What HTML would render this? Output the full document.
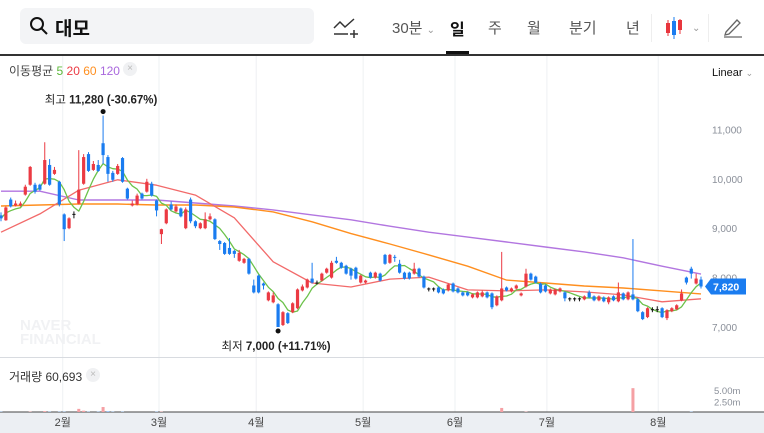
<!DOCTYPE html>
<html><head><meta charset="utf-8">
<style>
body{margin:0;width:764px;height:433px;overflow:hidden;background:#fff;font-family:"Liberation Sans","Noto Sans CJK KR",sans-serif;position:relative}
.abs{position:absolute}
.hd{font-size:15px;color:#555}
</style></head><body>
<div class="abs" style="left:20px;top:8px;width:294px;height:36px;background:#f3f4f6;border-radius:6px"></div>
<svg class="abs" style="left:29px;top:16px" width="20" height="20"><circle cx="8" cy="8" r="6" fill="none" stroke="#111" stroke-width="2"/><line x1="12.5" y1="12.5" x2="18" y2="18" stroke="#111" stroke-width="2"/></svg>
<div class="abs" style="left:55px;top:14px;font-size:19px;font-weight:bold;color:#111">대모</div>
<svg class="abs" style="left:332px;top:16px" width="28" height="24"><polyline points="2,12 8,6 13,11 22,3" fill="none" stroke="#333" stroke-width="1.5"/><line x1="2" y1="18" x2="16" y2="18" stroke="#333" stroke-width="1.5"/><line x1="22" y1="14" x2="22" y2="22" stroke="#333" stroke-width="1.5"/><line x1="18" y1="18" x2="26" y2="18" stroke="#333" stroke-width="1.5"/></svg>
<div class="abs hd" style="left:392px;top:17px">30분 <span style="font-size:10px;color:#999">⌄</span></div>
<div class="abs" style="left:450px;top:16px;font-size:16px;font-weight:bold;color:#111">일</div>
<div class="abs" style="left:446px;top:51px;width:23px;height:3px;background:#111"></div>
<div class="abs hd" style="left:488px;top:17px">주</div>
<div class="abs hd" style="left:527px;top:17px">월</div>
<div class="abs hd" style="left:569px;top:17px">분기</div>
<div class="abs hd" style="left:626px;top:17px">년</div>
<div class="abs" style="left:651px;top:14px;width:1px;height:28px;background:#eee"></div>
<svg class="abs" style="left:664px;top:16px" width="40" height="24"><line x1="4" y1="4" x2="4" y2="20" stroke="#e8363d"/><rect x="2" y="7" width="4" height="10" fill="#e8363d"/><line x1="10" y1="1" x2="10" y2="23" stroke="#1a7cf0"/><rect x="8" y="5" width="4" height="14" fill="#1a7cf0"/><line x1="16" y1="3" x2="16" y2="18" stroke="#e8363d"/><rect x="14" y="4" width="4" height="10" fill="#e8363d"/><text x="28" y="15" font-size="10" fill="#999">⌄</text></svg>
<div class="abs" style="left:708px;top:14px;width:1px;height:28px;background:#eee"></div>
<svg class="abs" style="left:722px;top:16px" width="22" height="22"><path d="M4 16 L15 4 L18 7 L7 18 L3 19 Z" fill="none" stroke="#666" stroke-width="1.3"/><line x1="2" y1="21" x2="20" y2="21" stroke="#666" stroke-width="1.3"/></svg>
<div class="abs" style="left:0;top:54px;width:764px;height:1.5px;background:#333"></div>

<svg id="chart" class="abs" style="left:0;top:0" width="764" height="433"></svg>
<script>
const candles=[[9260,9200,9320,9140],[9160,9420,9440,9150],[9580,9440,9620,9420],[9460,9500,9560,9440],[9460,9500,9540,9440],[9680,9840,9880,9660],[9880,10240,10260,9860],[9880,9740,9920,9700],[9880,9780,9900,9760],[9900,10380,10740,9880],
[10280,9880,10400,9860],[10100,10180,10240,10080],[9940,9480,9960,9440],[9280,8980,9300,8740],[9000,9200,9220,8980],[9290,9290,9340,9200],[9500,9780,10580,9480],[9900,10440,10500,9880],[10500,10160,10540,10140],[10180,10300,10360,10160],
[10280,10160,10380,10140],[10720,10480,11280,10300],[10440,10100,10480,9940],[10120,9980,10160,9940],[10100,10260,10300,10080],[10420,9940,10440,9920],[9800,9600,9820,9580],[9460,9500,9560,9440],[9480,9660,9700,9460],[9700,9600,9720,9580],
[9740,9940,10000,9720],[9900,9660,9940,9640],[9560,9360,9580,9240],[8880,8980,8990,8680],[9100,9380,9400,9080],[9480,9380,9540,9360],[9340,9440,9480,9320],[9400,9240,9420,9220],[9000,9380,9420,8980],[9580,9140,9620,9100],
[9140,9040,9160,9000],[9000,9100,9120,8980],[9000,9180,9320,8980],[9180,9240,9300,9160],[9180,8780,9200,8760],[8740,8680,8760,8560],[8700,8480,8720,8460],[8600,8480,8800,8460],[8540,8480,8560,8400],[8340,8500,8560,8320],
[8300,8380,8400,8280],[8380,8080,8400,8060],[7840,7700,7960,7680],[8040,7700,8060,7680],[7880,7840,7900,7760],[7540,7700,7720,7520],[7500,7640,7700,7480],[7460,7000,7480,7000],[7040,7300,7320,7020],[7280,7080,7300,7060],
[7300,7480,7500,7280],[7380,7760,7780,7360],[7740,7820,7860,7720],[7800,7960,7980,7780],[7980,7900,8300,7880],[7900,7900,7940,7860],[7940,8080,8100,7920],[8100,8180,8200,8080],[8000,8300,8340,7980],[8340,8300,8420,8280],
[8300,8200,8320,8180],[8240,8080,8260,8060],[8180,8040,8200,7960],[8200,7980,8220,7960],[7900,8040,8060,7880],[7900,7940,7960,7880],[8100,8000,8120,7980],[8000,8100,8120,7980],[8080,7940,8100,7920],[8460,8280,8480,8260],
[8300,8460,8480,8280],[8420,8400,8460,8320],[8280,8100,8360,8080],[8100,7980,8120,7960],[8100,7980,8120,7960],[8080,8180,8300,8060],[8180,8020,8200,8000],[8020,7800,8040,7780],[7780,7780,7800,7720],[7780,7780,7800,7720],
[7800,7700,7820,7680],[7760,7680,7780,7660],[7740,7860,7880,7720],[7880,7720,7900,7700],[7780,7700,7800,7680],[7700,7640,7720,7620],[7700,7640,7720,7620],[7600,7660,7680,7580],[7600,7700,7720,7580],[7620,7700,7740,7600],
[7700,7600,7720,7580],[7680,7400,7700,7360],[7440,7620,7640,7420],[7540,7780,8520,7520],[7800,7740,7820,7720],[7720,7780,7800,7700],[7780,7840,7860,7760],[7640,7680,7700,7620],[7820,8080,8180,7800],[8080,7960,8100,7940],
[8020,7900,8040,7880],[7880,7700,7900,7680],[7840,7720,7860,7700],[7680,7760,7780,7660],[7660,7760,7780,7640],[7720,7780,7800,7700],[7700,7580,7720,7520],[7580,7580,7600,7520],[7580,7580,7600,7520],[7580,7580,7600,7520],
[7560,7620,7640,7540],[7700,7600,7740,7580],[7620,7540,7640,7520],[7540,7620,7640,7520],[7600,7520,7620,7500],[7500,7600,7620,7460],[7620,7540,7640,7520],[7520,7700,7900,7500],[7680,7560,7700,7540],[7560,7700,7720,7540],
[7660,7560,8780,7540],[7560,7320,7580,7300],[7300,7160,7320,7140],[7200,7380,7400,7180],[7360,7360,7400,7300],[7360,7360,7420,7300],[7380,7200,7400,7180],[7180,7340,7360,7140],[7320,7380,7400,7300],[7360,7440,7460,7340],
[7540,7680,7760,7520],[8000,7900,8020,7860],[8180,8080,8220,7980],[7880,7980,8080,7860],[7960,7820,8020,7780]];
const volumes=[0.3,0.2,0.2,0.1,0.1,0.2,0.3,0.2,0.2,0.4,0.3,0.2,0.3,0.3,0.2,0.2,0.9,0.5,0.3,0.2,0.3,1.3,0.4,0.3,0.2,0.3,0.2,0.1,0.2,0.2,0.2,0.2,0.3,0.3,0.2,0.1,0.1,0.1,0.2,0.2,0.1,0.1,0.1,0.1,0.2,0.1,0.1,0.1,0.1,0.2,0.1,0.1,0.1,0.1,0.1,0.1,0.1,0.1,0.1,0.1,0.1,0.1,0.1,0.1,0.1,0.1,0.1,0.1,0.1,0.1,0.1,0.1,0.1,0.1,0.1,0.1,0.1,0.1,0.1,0.1,0.1,0.1,0.1,0.1,0.1,0.1,0.1,0.1,0.1,0.1,0.1,0.1,0.1,0.1,0.1,0.1,0.1,0.1,0.1,0.1,0.1,0.1,0.1,1.1,0.1,0.1,0.1,0.1,0.3,0.1,0.1,0.1,0.1,0.1,0.1,0.1,0.1,0.1,0.1,0.1,0.1,0.1,0.1,0.1,0.1,0.1,0.1,0.1,0.1,0.1,5.4,0.2,0.1,0.1,0.1,0.1,0.1,0.1,0.1,0.1,0.2,0.2,0.3,0.2,0.2];
const volRedIdx=[16,21,103,130];
const maSampleIdx=[0,8,16,24,32,40,48,56,64,72,80,88,96,104,112,120,128,136,144];
const ma20=[8920,9290,9770,9980,9870,9670,9210,8320,7890,7810,7970,8010,7750,7730,7750,7710,7650,7510,7570];
const ma60=[9450,9470,9490,9490,9470,9470,9430,9330,9130,8890,8680,8460,8230,7950,7890,7830,7790,7730,7670];
const ma120=[9750,9750,9570,9570,9570,9510,9450,9370,9270,9170,9040,8920,8820,8720,8620,8520,8400,8230,8070];
const priceTicks=[7000,8000,9000,10000,11000];
const priceTickLabels=["7,000","8,000","9,000","10,000","11,000"];
const monthLabels=["2월","3월","4월","5월","6월","7월","8월"];
const monthIdx=[12.7,32.5,52.5,74.5,93.4,112.3,135.2];
const volTicks=[2.5,5];
const volTickLabels=["2.50m","5.00m"];

const NS="http://www.w3.org/2000/svg";
const svg=document.getElementById('chart');
const X=i=>1+i*(700/144);
const Y=v=>327-(v-7000)*0.0494;
const VY=v=>413-v*4.6;
function mk(tag,attrs,parent){const e=document.createElementNS(NS,tag);for(const k in attrs)e.setAttribute(k,attrs[k]);(parent||svg).appendChild(e);return e;}
const RED="#eb3a43",BLUE="#1a7cf0";
monthIdx.forEach((m,k)=>{
  const g=mk('line',{x1:X(m),x2:X(m),y1:56,y2:413,stroke:'#eef0f3'});
  
  
});
const sep=mk('line',{x1:0,x2:764,y1:357.5,y2:357.5,stroke:'#d8dbe0'});


const axisBand=mk('rect',{x:0,y:412,width:764,height:21,fill:'#eceff3'});


mk('line',{x1:0,x2:764,y1:412,y2:412,stroke:'#444'});
const wm=mk('text',{x:20,y:330,'font-size':15,'font-weight':'bold',fill:'#f1f2f4','font-family':'Liberation Sans'});wm.textContent='NAVER';


const wm2=mk('text',{x:20,y:344,'font-size':15,'font-weight':'bold',fill:'#f1f2f4','font-family':'Liberation Sans'});wm2.textContent='FINANCIAL';


function line(xs,vals,color,name,w){
  const pts=vals.map((v,k)=>X(xs[k]).toFixed(1)+','+Y(v).toFixed(1)).join(' ');
  const p=mk('polyline',{points:pts,fill:'none',stroke:color,'stroke-width':w,'stroke-linejoin':'round'});
  
  
}
line(maSampleIdx,ma120,'#b276e0','ma120-line',1.4);
line(maSampleIdx,ma60,'#ff8f1f','ma60-line',1.4);
line(maSampleIdx,ma20,'#f26a6a','ma20-line',1.3);
const closes=candles.map(c=>c[1]);
const ma5=closes.map((c,i)=>{const s=closes.slice(Math.max(0,i-4),i+1);return s.reduce((a,b)=>a+b,0)/s.length;});
line(closes.map((c,i)=>i),ma5,'#6cc24a','ma5-line',1.3);
candles.forEach((c,i)=>{
  const [o,cl,h,l]=c;const col=cl>o?RED:(cl<o?BLUE:'#111');
  const x=X(i);
  const w=mk('line',{x1:x,x2:x,y1:Y(h),y2:Y(l),stroke:col,'stroke-width':1});
  
  
  const top=Y(Math.max(o,cl)),bh=Math.max(1,Math.abs(Y(o)-Y(cl)));
  const r=mk('rect',{x:x-1.6,y:top,width:3.2,height:bh,fill:col});
  
  
  const isRed=volRedIdx.includes(i)||cl>=o;
  const vb=mk('rect',{x:x-1.5,y:VY(volumes[i]),width:3,height:Math.max(0,412-VY(volumes[i])),fill:isRed?'#f5a0a4':'#8dbcf5'});
  
  
});
priceTicks.forEach((t,k)=>{
  const tx=mk('text',{x:712,y:Y(t)+4,'font-size':10,fill:'#8a8f99'});tx.textContent=priceTickLabels[k];
  
  
});
volTicks.forEach((t,k)=>{
  const tx=mk('text',{x:714,y:VY(t)+4,'font-size':9.5,fill:'#8a8f99'});tx.textContent=volTickLabels[k];
  
  
});
monthIdx.forEach((m,k)=>{
  const tx=mk('text',{x:X(m),y:426,'font-size':11,fill:'#444','text-anchor':'middle'});tx.textContent=monthLabels[k];
  
  
});
let hi=0,lo=0;candles.forEach((c,i)=>{if(c[2]>candles[hi][2])hi=i;if(c[3]<candles[lo][3])lo=i;});
const hd=mk('circle',{cx:X(hi),cy:Y(candles[hi][2])-4,r:2.5,fill:'#111'});


const ht=mk('text',{x:X(hi)-2,y:Y(candles[hi][2])-12,'font-size':11.5,fill:'#222','text-anchor':'middle'});
ht.innerHTML='최고 <tspan font-weight="bold">11,280 (-30.67%)</tspan>';


const ld=mk('circle',{cx:X(lo),cy:Y(candles[lo][3])+4,r:2.5,fill:'#111'});


const lt=mk('text',{x:X(lo)-2,y:Y(candles[lo][3])+23,'font-size':11.5,fill:'#222','text-anchor':'middle'});
lt.innerHTML='최저 <tspan font-weight="bold">7,000 (+11.71%)</tspan>';


const last=closes[closes.length-1];
const tag=mk('path',{d:`M705 ${Y(last)} L711 ${Y(last)-8} L746 ${Y(last)-8} L746 ${Y(last)+8} L711 ${Y(last)+8} Z`,fill:'#1a7cf0'});


const tt=mk('text',{x:713,y:Y(last)+4,'font-size':10.5,'font-weight':'bold',fill:'#fff'});tt.textContent=last.toLocaleString('en-US');


</script>
<div class="abs" style="left:9px;top:62px;font-size:12px;color:#444">이동평균 <span style="color:#5cb83a">5</span> <span style="color:#eb3a43">20</span> <span style="color:#ff8f1f">60</span> <span style="color:#a968dd">120</span></div>
<div class="abs" style="left:123px;top:62px;width:14px;height:14px;border-radius:7px;background:#f0f1f3;color:#bbb;font-size:10px;text-align:center;line-height:14px">×</div>
<div class="abs" style="left:712px;top:67px;font-size:11px;color:#111">Linear <span style="color:#999;font-size:9px">⌄</span></div>
<div class="abs" style="left:9px;top:368px;font-size:12px;color:#333">거래량 60,693</div>
<div class="abs" style="left:86px;top:368px;width:14px;height:14px;border-radius:7px;background:#f0f1f3;color:#bbb;font-size:10px;text-align:center;line-height:14px">×</div>
</body></html>
